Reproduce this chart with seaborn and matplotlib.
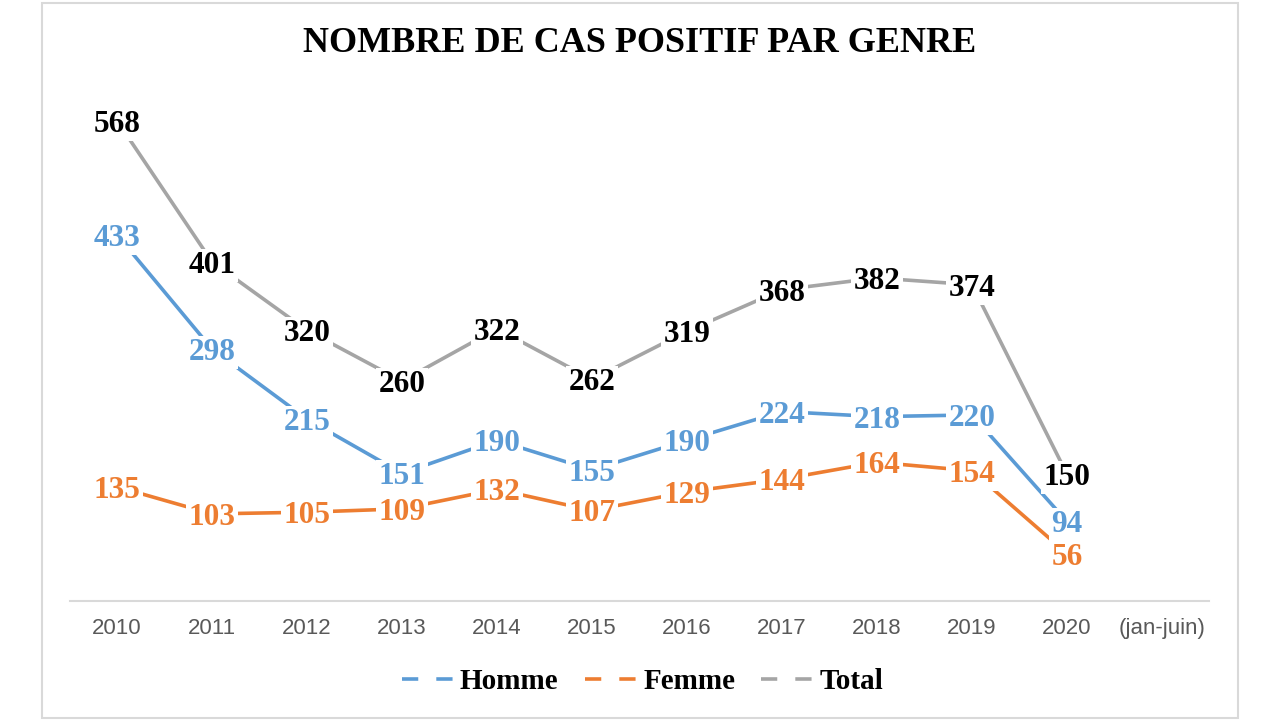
import pandas as pd
import numpy as np
import matplotlib
matplotlib.use("Agg")
import matplotlib.pyplot as plt
import seaborn as sns
from matplotlib.lines import Line2D
from matplotlib.patches import Rectangle

years = ["2010", "2011", "2012", "2013", "2014", "2015", "2016", "2017", "2018", "2019", "2020"]
tick_labels = years + ["(jan-juin)"]
homme = [433, 298, 215, 151, 190, 155, 190, 224, 218, 220, 94]
femme = [135, 103, 105, 109, 132, 107, 129, 144, 164, 154, 56]
total = [568, 401, 320, 260, 322, 262, 319, 368, 382, 374, 150]

series = ["Homme", "Femme", "Total"]
colors = {"Homme": "#5B9BD5", "Femme": "#ED7D31", "Total": "#A5A5A5"}
label_colors = {"Homme": "#5B9BD5", "Femme": "#ED7D31", "Total": "#000000"}


def main():
    sns.set_theme(style="white")
    plt.rcParams["font.family"] = ["Liberation Sans", "DejaVu Sans"]

    df = pd.DataFrame({
        "pos": list(range(len(years))) * 3,
        "val": homme + femme + total,
        "serie": ["Homme"] * len(years) + ["Femme"] * len(years) + ["Total"] * len(years),
    })

    fig = plt.figure(figsize=(12.8, 7.2), dpi=100)
    ax = fig.add_axes([0.0543, 0.1653, 0.8906, 0.7047])
    sns.lineplot(data=df, x="pos", y="val", hue="serie", hue_order=series,
                 palette=colors, linewidth=2.6, ax=ax, legend=False, zorder=2)

    # data labels with white background like Excel
    for s, vals in zip(series, [homme, femme, total]):
        for i, v in enumerate(vals):
            ax.annotate(str(v), (i, v), xytext=(0, -2.5), textcoords="offset points",
                        ha="center", va="center", fontsize=22.5,
                        fontweight="bold", family="Liberation Serif",
                        color=label_colors[s], zorder=3,
                        bbox=dict(facecolor="white", edgecolor="none", pad=1.5))

    ax.set_xlim(-0.5, 11.5)
    ax.set_ylim(0, 600)
    ax.set_xticks(range(len(tick_labels)))
    ax.set_xticklabels(tick_labels)
    ax.set_yticks([])
    ax.set_xlabel("")
    ax.set_ylabel("")
    ax.tick_params(axis="x", length=0, pad=12, labelsize=16, labelcolor="#595959")
    for side in ["top", "left", "right"]:
        ax.spines[side].set_visible(False)
    ax.spines["bottom"].set_color("#D9D9D9")
    ax.spines["bottom"].set_linewidth(1.5)

    fig.text(0.5, 0.94, "NOMBRE DE CAS POSITIF PAR GENRE", ha="center", va="center",
             fontsize=26, fontweight="bold", family="Liberation Serif", color="black")

    handles = [Line2D([], [], color=colors[s], linewidth=2.6, linestyle=(0, (4.5, 5)))
               for s in series]
    leg = fig.legend(handles, series, loc="center", bbox_to_anchor=(0.502, 0.053),
                     ncol=3, frameon=False, handlelength=1.8, handletextpad=0.2,
                     columnspacing=0.9, labelcolor="black",
                     prop={"family": "Liberation Serif", "weight": "bold", "size": 21})

    fig.patches.append(Rectangle((42 / 1280, 2 / 720), 1196 / 1280, 715 / 720,
                                 transform=fig.transFigure, fill=False,
                                 edgecolor="#D9D9D9", linewidth=1.5))

    plt.savefig("out.png", dpi=100)


if __name__ == "__main__":
    main()
